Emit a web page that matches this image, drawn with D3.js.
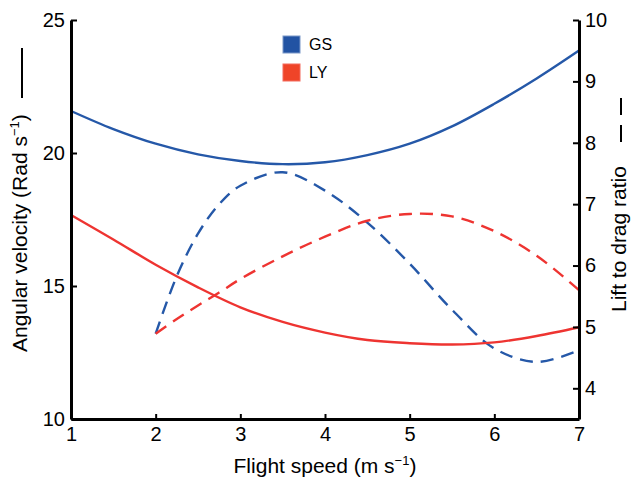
<!DOCTYPE html>
<html>
<head>
<meta charset="utf-8">
<script src="https://cdn.jsdelivr.net/npm/d3@7"></script>
<style>
  body { margin: 0; background: #fff; }
  text { font-family: "Liberation Sans", Arial, Helvetica, sans-serif; fill: #000; }
</style>
</head>
<body>
<div id="chart"></div>
<script>
// Data
const speeds = [1, 1.5, 2, 2.5, 3, 3.5, 4, 4.5, 5, 5.5, 6, 6.5, 7];
const gsAngular = [21.58, 20.9, 20.35, 19.95, 19.7, 19.58, 19.65, 19.92, 20.35, 21.0, 21.85, 22.8, 23.85];
const lyAngular = [17.67, 16.75, 15.8, 14.95, 14.2, 13.65, 13.25, 12.97, 12.85, 12.8, 12.88, 13.12, 13.45];

const ldSpeeds = [2, 2.25, 2.5, 2.75, 3, 3.5, 4, 4.5, 5, 5.5, 6, 6.5, 7];
const gsLiftDrag = [4.89, 5.83, 6.52, 7.0, 7.3, 7.52, 7.22, 6.7, 6.03, 5.28, 4.65, 4.43, 4.62];
const lyLiftDrag = [4.89, 5.13, 5.35, 5.56, 5.78, 6.15, 6.47, 6.73, 6.84, 6.8, 6.56, 6.16, 5.6];

const speedTicks = [1, 2, 3, 4, 5, 6, 7];
const angularTicks = [10, 15, 20, 25];
const ratioTicks = [4, 5, 6, 7, 8, 9, 10];

const series = ["GS", "LY"];
const colors = { GS: "#2558a8", LY: "#ee3431" };

const margin = { top: 20, right: 53, bottom: 63, left: 71 },
      width = 632 - margin.left - margin.right,
      height = 482 - margin.top - margin.bottom;

const root = d3.select("#chart")
  .append("svg")
    .attr("width", 632)
    .attr("height", 482);

const svg = root.append("g")
    .attr("transform", `translate(${margin.left},${margin.top})`);

// Scales
const x = d3.scaleLinear().domain([1, 7]).range([0, width]);
const yL = d3.scaleLinear().domain([10, 25]).range([height, 0]);
const yR = d3.scaleLinear().domain([3.5, 10]).range([height, 0]);

// Curves
const line = (yScale) => d3.line()
  .x(d => x(d[0]))
  .y(d => yScale(d[1]))
  .curve(d3.curveCatmullRom.alpha(0.5));

const drawCurve = (xs, ys, yScale, color, dashed) => {
  svg.append("path")
    .datum(xs.map((v, i) => [v, ys[i]]))
    .attr("fill", "none")
    .attr("stroke", color)
    .attr("stroke-width", 2.4)
    .attr("stroke-dasharray", dashed ? "13,8" : null)
    .attr("d", line(yScale));
};

drawCurve(ldSpeeds, gsLiftDrag, yR, colors.GS, true);
drawCurve(ldSpeeds, lyLiftDrag, yR, colors.LY, true);
drawCurve(speeds, gsAngular, yL, colors.GS, false);
drawCurve(speeds, lyAngular, yL, colors.LY, false);

// Axes (ticks point inward)
const styleAxis = g => {
  g.select(".domain").attr("stroke-width", 3);
  g.selectAll(".tick line").attr("stroke-width", 2);
  g.selectAll("text")
    .style("font-family", '"Liberation Sans", Arial, sans-serif')
    .style("font-size", "20px")
    .attr("fill", "#000");
};

svg.append("g")
  .attr("transform", `translate(0,${height})`)
  .call(d3.axisBottom(x).tickValues(speedTicks).tickFormat(d3.format("d"))
    .tickSizeInner(-5).tickSizeOuter(0).tickPadding(8))
  .call(styleAxis);

svg.append("g")
  .call(d3.axisLeft(yL).tickValues(angularTicks).tickFormat(d3.format("d"))
    .tickSizeInner(-6).tickSizeOuter(0).tickPadding(6))
  .call(styleAxis);

svg.append("g")
  .attr("transform", `translate(${width},0)`)
  .call(d3.axisRight(yR).tickValues(ratioTicks).tickFormat(d3.format("d"))
    .tickSizeInner(-6).tickSizeOuter(0).tickPadding(6))
  .call(styleAxis);

// Axis titles
const xTitle = root.append("text")
  .attr("x", margin.left + x(4))
  .attr("y", 473)
  .attr("text-anchor", "middle")
  .style("font-size", "21px");
xTitle.append("tspan").text("Flight speed (m s");
xTitle.append("tspan").attr("dy", -8).style("font-size", "13px").text("\u22121");
xTitle.append("tspan").attr("dy", 8).text(")");

const yTitle = root.append("text")
  .attr("transform", "translate(27,352) rotate(-90)")
  .attr("text-anchor", "start")
  .style("font-size", "21px");
yTitle.append("tspan").text("Angular velocity (Rad s");
yTitle.append("tspan").attr("dy", -8).style("font-size", "13px").text("\u22121");
yTitle.append("tspan").attr("dy", 8).text(")");

root.append("line")
  .attr("x1", 22).attr("x2", 22)
  .attr("y1", 48).attr("y2", 98)
  .attr("stroke", "#000").attr("stroke-width", 2);

root.append("text")
  .attr("transform", "translate(626,312) rotate(-90)")
  .attr("text-anchor", "start")
  .style("font-size", "21px")
  .text("Lift to drag ratio");

[[98, 115], [125, 142]].forEach(([a, b]) => {
  root.append("line")
    .attr("x1", 621).attr("x2", 621)
    .attr("y1", a).attr("y2", b)
    .attr("stroke", "#000").attr("stroke-width", 2);
});

// Legend
const legend = root.append("g").attr("transform", "translate(283,36)");
series.forEach((s, i) => {
  const row = legend.append("g").attr("transform", `translate(0,${i * 28})`);
  row.append("rect")
    .attr("width", 17).attr("height", 17)
    .attr("fill", s === "GS" ? "#2253a3" : "#ef4428")
    .attr("stroke", s === "GS" ? "#7a98c8" : "#f36a5c")
    .attr("stroke-width", 1);
  row.append("text")
    .attr("x", 26).attr("y", 14)
    .style("font-size", "16px")
    .text(s);
});
</script>
</body>
</html>
